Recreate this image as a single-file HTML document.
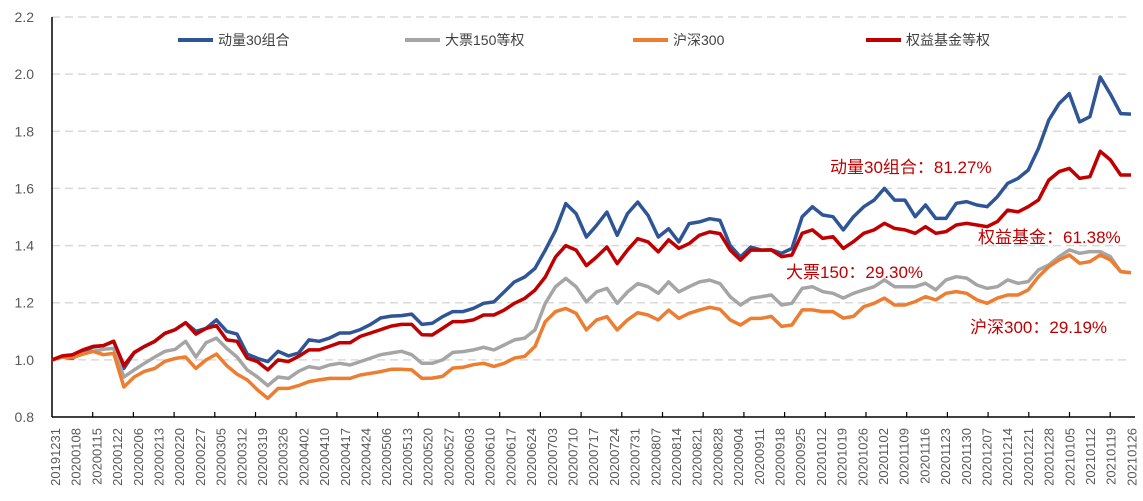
<!DOCTYPE html>
<html><head><meta charset="utf-8"><style>
body{margin:0;background:#fff}
svg{display:block;font-family:"Liberation Sans","Noto Sans CJK SC",sans-serif}
</style></head><body>
<svg id="chart" width="1143" height="501"></svg>
<script>
const dates=["20191231","20200108","20200115","20200122","20200206","20200213","20200220","20200227","20200305","20200312","20200319","20200326","20200402","20200410","20200417","20200424","20200506","20200513","20200520","20200527","20200603","20200610","20200617","20200624","20200703","20200710","20200717","20200724","20200731","20200807","20200814","20200821","20200828","20200904","20200911","20200918","20200925","20201012","20201019","20201026","20201102","20201109","20201116","20201123","20201130","20201207","20201214","20201221","20201228","20210105","20210112","20210119","20210126"];
const yTicks=[0.8,1.0,1.2,1.4,1.6,1.8,2.0,2.2];
const momentum30=[1.00,1.01,1.005,1.03,1.045,1.05,1.065,0.97,1.025,1.047,1.065,1.093,1.106,1.13,1.10,1.11,1.14,1.10,1.09,1.02,1.005,0.994,1.03,1.014,1.024,1.07,1.065,1.076,1.094,1.094,1.106,1.124,1.147,1.153,1.155,1.16,1.124,1.128,1.151,1.169,1.169,1.18,1.198,1.203,1.238,1.273,1.29,1.32,1.384,1.453,1.547,1.512,1.43,1.471,1.517,1.436,1.512,1.552,1.506,1.43,1.459,1.413,1.477,1.483,1.494,1.488,1.40,1.36,1.395,1.384,1.385,1.373,1.39,1.501,1.536,1.507,1.501,1.455,1.501,1.536,1.559,1.60,1.559,1.559,1.501,1.542,1.495,1.495,1.548,1.554,1.542,1.536,1.571,1.618,1.635,1.664,1.74,1.839,1.897,1.932,1.833,1.851,1.99,1.93,1.862,1.86];
const large150=[1.00,1.01,1.01,1.02,1.03,1.037,1.04,0.94,0.965,0.988,1.01,1.03,1.037,1.065,1.01,1.06,1.076,1.04,1.01,0.965,0.94,0.91,0.94,0.935,0.96,0.976,0.97,0.982,0.988,0.982,0.994,1.006,1.018,1.024,1.03,1.018,0.988,0.988,1.0,1.026,1.029,1.035,1.044,1.035,1.052,1.07,1.076,1.105,1.198,1.256,1.285,1.256,1.203,1.238,1.25,1.198,1.238,1.267,1.256,1.233,1.273,1.238,1.256,1.273,1.279,1.267,1.221,1.192,1.215,1.221,1.227,1.192,1.198,1.25,1.256,1.239,1.233,1.216,1.233,1.245,1.256,1.28,1.256,1.256,1.256,1.268,1.245,1.28,1.291,1.286,1.262,1.25,1.256,1.28,1.268,1.274,1.315,1.332,1.361,1.385,1.373,1.379,1.379,1.361,1.309,1.305];
const hs300=[1.00,1.01,1.008,1.02,1.03,1.018,1.023,0.905,0.94,0.96,0.97,0.995,1.005,1.01,0.97,1.0,1.02,0.98,0.95,0.93,0.895,0.865,0.90,0.90,0.91,0.924,0.93,0.935,0.935,0.935,0.947,0.953,0.959,0.967,0.967,0.965,0.935,0.936,0.942,0.971,0.974,0.983,0.988,0.977,0.988,1.006,1.012,1.047,1.134,1.169,1.18,1.163,1.105,1.14,1.151,1.105,1.14,1.165,1.157,1.14,1.174,1.145,1.163,1.174,1.184,1.177,1.14,1.122,1.145,1.145,1.152,1.117,1.122,1.175,1.175,1.169,1.169,1.146,1.152,1.186,1.198,1.216,1.192,1.192,1.204,1.221,1.21,1.233,1.239,1.233,1.21,1.198,1.216,1.227,1.227,1.245,1.291,1.326,1.35,1.367,1.338,1.344,1.367,1.35,1.309,1.305];
const fundEq=[1.00,1.014,1.018,1.035,1.047,1.05,1.065,0.98,1.026,1.047,1.065,1.093,1.106,1.13,1.09,1.11,1.12,1.07,1.065,1.006,0.994,0.965,1.0,0.994,1.012,1.035,1.035,1.047,1.06,1.06,1.082,1.094,1.106,1.118,1.124,1.124,1.088,1.087,1.11,1.134,1.134,1.14,1.157,1.157,1.174,1.198,1.215,1.244,1.29,1.36,1.40,1.384,1.33,1.36,1.395,1.337,1.384,1.424,1.413,1.378,1.42,1.39,1.407,1.436,1.448,1.442,1.384,1.349,1.384,1.384,1.385,1.361,1.367,1.443,1.455,1.425,1.431,1.39,1.414,1.443,1.455,1.478,1.46,1.455,1.443,1.466,1.443,1.449,1.472,1.478,1.472,1.466,1.484,1.524,1.518,1.536,1.56,1.629,1.659,1.67,1.635,1.641,1.73,1.70,1.647,1.647];
const seriesNames=["动量30组合","大票150等权","沪深300","权益基金等权"];
const NS="http://www.w3.org/2000/svg";
const svg=document.getElementById('chart');
const X0=52,X1=1131,Y0=417,Ytop=17,VMIN=0.8,VMAX=2.2;
const xIdx=k=>X0+(X1-X0)*k/(momentum30.length-1);
const xLab=i=>X0+i*20.7;
const y=v=>Y0-(v-VMIN)/(VMAX-VMIN)*(Y0-Ytop);
function mk(t,a){const e=document.createElementNS(NS,t);for(const k in a)e.setAttribute(k,a[k]);svg.appendChild(e);return e;}
yTicks.forEach(v=>{
  if(v>VMIN){const g=mk('line',{x1:X0,x2:X1,y1:y(v),y2:y(v),stroke:'#d9d9d9','stroke-width':1.5,'stroke-dasharray':'8,5'});
  
  }
  const t=mk('text',{x:34,y:y(v)+5,'text-anchor':'end','font-size':14,fill:'#595959'});t.textContent=v.toFixed(1);
  
  
});
const ya=mk('line',{x1:X0,x2:X0,y1:Ytop,y2:Y0,stroke:'#000','stroke-width':1.5});


const xa=mk('line',{x1:X0,x2:X1+4,y1:Y0,y2:Y0,stroke:'#000','stroke-width':1.5});


dates.forEach((d,i)=>{
  const x=xLab(i);
  if(i%2===0&&i>0){const tk=mk('line',{x1:x-20.7+40.7/2+20.35-20.35,x2:x-20.7+40.7/2,y1:Y0,y2:Y0-5,stroke:'#000','stroke-width':1.2});
  tk.setAttribute('x1',X0+i*20.35);tk.setAttribute('x2',X0+i*20.35);
  
  }
  const t=mk('text',{x:0,y:0,'text-anchor':'end','font-size':13,fill:'#595959',transform:`translate(${x+8},${Y0+11}) rotate(-90)`});
  t.textContent=d;
  
  
});
const colors=["#2f5597","#a5a5a5","#ed7d31","#c00000"];
const data=[momentum30,large150,hs300,fundEq];
const ids=["momentum30-line","large150-line","hs300-line","fund-equal-line"];
data.forEach((arr,s)=>{
  const p=mk('polyline',{points:arr.map((v,k)=>xIdx(k).toFixed(1)+','+y(v).toFixed(1)).join(' '),fill:'none',stroke:colors[s],'stroke-width':3.5,'stroke-linejoin':'round'});
  
  
});
const legX=[178,405,633,866];
seriesNames.forEach((n,s)=>{
  const l=mk('line',{x1:legX[s],x2:legX[s]+35,y1:40,y2:40,stroke:colors[s],'stroke-width':4});
  
  
  const t=mk('text',{x:legX[s]+40,y:45,'font-size':14,fill:'#404040'});t.textContent=n;
  
  
});
const notes=[["动量30组合：81.27%",830,173],["权益基金：61.38%",978,243],["大票150：29.30%",786,278],["沪深300：29.19%",970,333]];
notes.forEach(n=>{
  const t=mk('text',{x:n[1],y:n[2],'font-size':17,fill:'#c00000'});t.textContent=n[0];
  
  
});
</script>
</body></html>
